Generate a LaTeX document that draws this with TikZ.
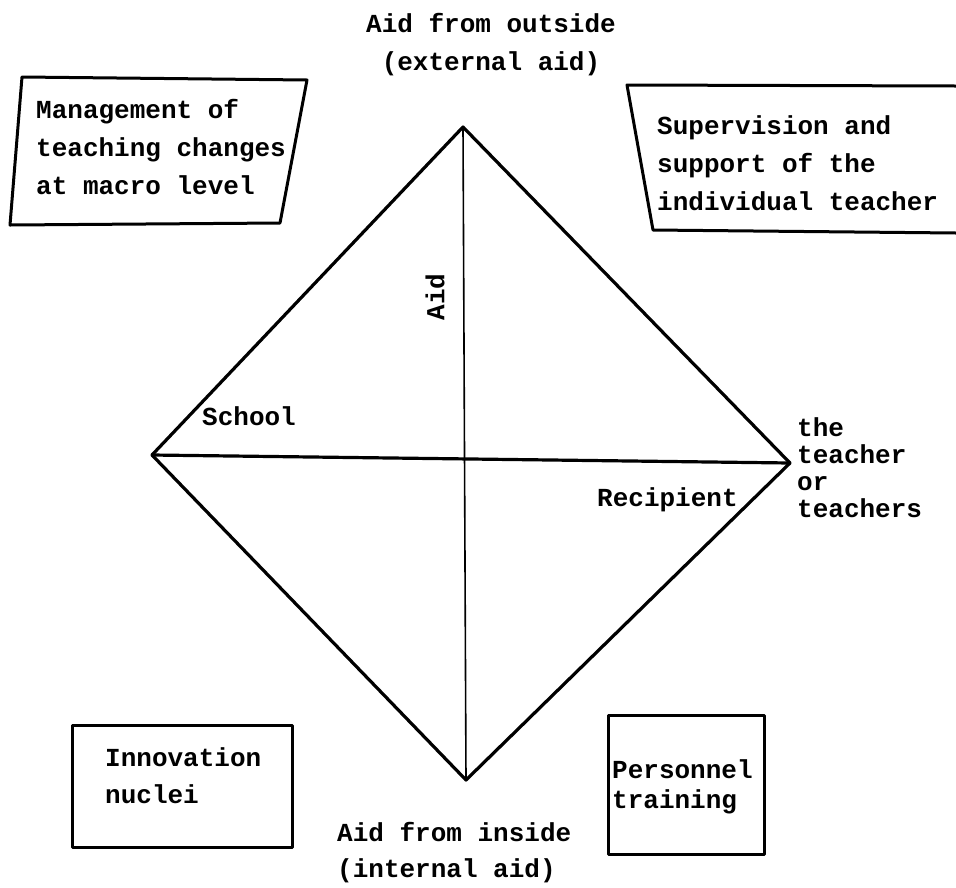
\documentclass[tikz,border=0pt]{standalone}
\usepackage{fontspec}
\setmainfont{Liberation Mono}
\begin{document}
\begin{tikzpicture}[x=1pt,y=-1pt,
  txt/.style={inner sep=0pt,font=\bfseries\fontsize{26}{38}\selectfont},
  thick line/.style={line width=3.2pt,line join=round,line cap=round},
  thin line/.style={line width=1.6pt},
  boxline/.style={line width=3pt,line join=round}]
\useasboundingbox (0,0) rectangle (956,887);
% diamond vertices
\coordinate (T) at (463,127);
\coordinate (R) at (790,463);
\coordinate (B) at (466,780);
\coordinate (L) at (152,455);
\draw[thick line] (T) -- (R) -- (B) -- (L) -- cycle;
\draw[thick line] (L) -- (R);
\draw[thin line] (T) -- (B);
% top-left parallelogram
\coordinate (a1) at (22,77);
\coordinate (a2) at (307,80);
\coordinate (a3) at (280,223);
\coordinate (a4) at (10,225);
\draw[boxline] (a1) -- (a2) -- (a3) -- (a4) -- cycle;
% top-right open box
\coordinate (b1) at (956,86);
\coordinate (b2) at (627,85);
\coordinate (b3) at (653,230);
\coordinate (b4) at (956,233);
\draw[boxline] (b1) -- (b2) -- (b3) -- (b4);
% bottom boxes
\coordinate (c1) at (72,725);
\coordinate (c2) at (292,847);
\draw[boxline] (c1) rectangle (c2);
\coordinate (d1) at (608,715);
\coordinate (d2) at (764,854);
\draw[boxline] (d1) rectangle (d2);
% texts
\node[txt,align=center] (top) at (491,45) {Aid from outside\\(external aid)};
\node[txt,align=left,anchor=west] (mgmt) at (36,147) {Management of\\teaching changes\\at macro level};
\node[txt,align=left,anchor=west] (sup) at (657,163) {Supervision and\\support of the\\individual teacher};
\node[txt,rotate=90] (aid) at (435,297) {Aid};
\node[txt,anchor=west] (school) at (202,416) {School};
\node[txt,anchor=west] (recip) at (597,500) {Recipient};
\node[txt,align=left,anchor=west,font=\bfseries\fontsize{26}{27}\selectfont] (teach) at (797,468) {the\\teacher\\or\\teachers};
\node[txt,align=left,anchor=west,font=\bfseries\fontsize{26}{37}\selectfont] (innov) at (105,776) {Innovation\\nuclei};
\node[txt,align=left,anchor=west,font=\bfseries\fontsize{26}{30}\selectfont] (pers) at (612,787) {Personnel\\training};
\node[txt,align=left,anchor=west,font=\bfseries\fontsize{26}{36}\selectfont] (inside) at (337,853) {Aid from inside\\(internal aid)};
\end{tikzpicture}
\end{document}
